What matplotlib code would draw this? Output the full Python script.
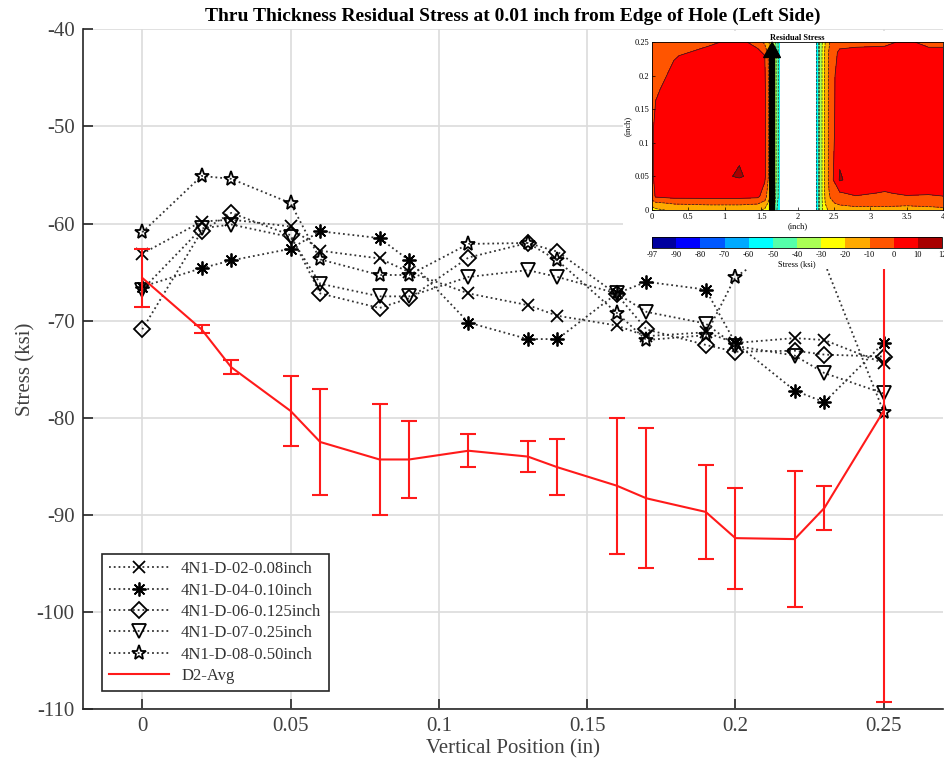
import numpy as np
import matplotlib
matplotlib.use('Agg')
import matplotlib.pyplot as plt
from matplotlib.colors import ListedColormap, BoundaryNorm

plt.rcParams['font.family'] = ['Liberation Serif', 'DejaVu Serif']
plt.rcParams['axes.unicode_minus'] = False

# --- main chart data ---
x_pos = [0, 0.02, 0.03, 0.05, 0.06, 0.08, 0.09, 0.11, 0.13, 0.14,
         0.16, 0.17, 0.19, 0.20, 0.22, 0.23, 0.25]

d02 = [-63.1, -59.8, -59.6, -60.3, -62.8, -63.6, -65.0, -67.2, -68.4, -69.5,
       -70.5, -71.6, -71.2, -72.3, -71.8, -72.0, -74.4]
d04 = [-66.5, -64.6, -63.8, -62.6, -60.8, -61.5, -63.8, -70.2, -71.9, -71.9,
       -67.2, -66.0, -66.8, -72.3, -77.2, -78.4, -72.3]
d06 = [-70.9, -60.8, -58.9, -61.2, -67.2, -68.7, -67.7, -63.5, -62.0, -62.9,
       -67.3, -70.9, -72.5, -73.2, -73.1, -73.5, -73.7]
d07 = [-66.8, -60.5, -60.1, -61.4, -66.2, -67.5, -67.5, -65.5, -64.8, -65.5,
       -67.2, -69.1, -70.3, -72.6, -73.6, -75.4, -77.5]
d08 = [-60.9, -55.1, -55.4, -57.9, -63.7, -65.3, -65.3, -62.1, -62.0, -63.8,
       -69.2, -72.0, -71.5, -65.5, -61.5, -64.0, -79.4]

avg = [-65.6, -70.9, -74.8, -79.3, -82.5, -84.3, -84.3, -83.4, -84.0, -85.1,
       -87.0, -88.3, -89.7, -92.4, -92.5, -89.3, -79.3]
avg_err = [3.0, 0.4, 0.7, 3.6, 5.5, 5.7, 4.0, 1.7, 1.6, 2.9,
           7.0, 7.2, 4.8, 5.2, 7.0, 2.3, 30.0]

series_labels = ['4N1-D-02-0.08inch', '4N1-D-04-0.10inch', '4N1-D-06-0.125inch',
                 '4N1-D-07-0.25inch', '4N1-D-08-0.50inch']
series_markers = ['x', (8, 2, 0), 'D', 'v', '*']
series_sizes = [8, 10, 8, 10, 11]

# --- inset contour data (coarse grid) ---
left_x = [0.0, 0.05, 0.3, 0.8, 1.2, 1.45, 1.55, 1.62, 1.7, 1.75]
left_y = [0.0, 0.01, 0.02, 0.05, 0.12, 0.18, 0.23, 0.25]
left_z = [
    [-25, -22, -18, -16, -16, -18, -22, -30, -45, -60],
    [-15, -12, -9, -8, -8, -9, -13, -25, -42, -58],
    [-5, 1, 3, 3, 3, 2, -5, -20, -40, -55],
    [-3, 5, 8, 8, 10.6, 8, 2, -15, -38, -55],
    [-3, 5, 8, 8, 8, 7, 2, -15, -38, -55],
    [-6, -2, 6, 8, 8, 7, 2, -15, -38, -55],
    [-8, -6, -1, 6, 8, 6, 0, -15, -38, -55],
    [-9, -8, -4, -2, 4, -5, -12, -22, -40, -56],
]
right_x = [2.25, 2.3, 2.38, 2.45, 2.58, 2.8, 3.2, 3.5, 3.8, 4.0]
right_y = [0.0, 0.01, 0.025, 0.045, 0.12, 0.2, 0.235, 0.25]
right_z = [
    [-65, -40, -22, -18, -16, -14, -14, -15, -14, -13],
    [-65, -40, -20, -12, -8, -6, -6, -7, -6, -5],
    [-65, -40, -18, -8, -1, 2, -1, 2, 1, 2],
    [-65, -40, -18, -5, 11, 6, 7, 7, 7, 7],
    [-65, -40, -18, -5, 6, 7, 7, 7, 7, 7],
    [-65, -40, -18, -5, 5, 7, 7, 7, 7, 7],
    [-65, -40, -18, -6, 2, 3, 3, 4, 3, 4],
    [-65, -40, -20, -9, -4, -3, -2, 2, -3, -4],
]
stress_levels = [-97, -90, -80, -70, -60, -50, -40, -30, -20, -10, 0, 10, 12]
stress_colors = ['#00009F', '#0000FF', '#0058FF', '#00AAFF', '#00FFFF', '#55FFAA',
                 '#AAFF55', '#FFFF00', '#FFAA00', '#FF5500', '#FF0000', '#A80000']

# --- figure ---
fig = plt.figure(figsize=(9.44, 7.68), dpi=100)
ax = fig.add_axes([0.0879, 0.0768, 0.911, 0.885])

for vals, lab, mk, ms in zip([d02, d04, d06, d07, d08], series_labels,
                             series_markers, series_sizes):
    ax.plot(x_pos, vals, linestyle=':', color='#333333', linewidth=1.3,
            marker=mk, markersize=ms, markerfacecolor='none',
            markeredgecolor='black', markeredgewidth=1.3, label=lab)

ax.errorbar(x_pos, avg, yerr=avg_err, color='#FF1A1A', linewidth=1.5,
            elinewidth=1.5, capsize=6, capthick=1.5)
ax.plot([], [], color='#FF1A1A', linewidth=1.5, label='D2-Avg')

ax.set_xlim(-0.02, 0.27)
ax.set_ylim(-110, -40)
ax.set_xticks([0, 0.05, 0.1, 0.15, 0.2, 0.25])
ax.set_xticklabels(['0', '0.05', '0.1', '0.15', '0.2', '0.25'])
ax.set_yticks(range(-110, -39, 10))
ax.grid(True, color='#dcdcdc', linewidth=1.2)
ax.set_axisbelow(True)
for side in ['top', 'right']:
    ax.spines[side].set_visible(False)
for side in ['left', 'bottom']:
    ax.spines[side].set_color('#262626')
    ax.spines[side].set_linewidth(1.2)
ax.tick_params(direction='in', length=7, width=1.2, colors='#262626',
               labelsize=15, pad=6)
for t in ax.get_xticklabels() + ax.get_yticklabels():
    t.set_color('#404040')

ax.set_xlabel('Vertical Position (in)', fontsize=15, color='#404040', labelpad=2)
ax.set_ylabel('Stress (ksi)', fontsize=15, color='#404040', labelpad=1)
ax.set_title('Thru Thickness Residual Stress at 0.01 inch from Edge of Hole (Left Side)',
             fontsize=14, fontweight='bold', pad=6)

leg = ax.legend(loc='lower left', bbox_to_anchor=(0.022, 0.026), borderaxespad=0,
                numpoints=1, handlelength=3.6, fontsize=12, fancybox=False,
                framealpha=1, edgecolor='#262626', labelspacing=0.32,
                handletextpad=0.7, borderpad=0.45)
leg.get_frame().set_linewidth(1.2)
for t in leg.get_texts():
    t.set_color('#333333')

# --- inset: residual stress contour ---
bg = fig.add_axes([0.660, 0.650, 0.340, 0.310])
bg.set_facecolor('white')
bg.set_xticks([])
bg.set_yticks([])
for s in bg.spines.values():
    s.set_visible(False)

cmap = ListedColormap(stress_colors)
norm = BoundaryNorm(stress_levels, cmap.N)
ins = fig.add_axes([0.6907, 0.7266, 0.3083, 0.2184])
for gx, gy, gz in [(left_x, left_y, left_z), (right_x, right_y, right_z)]:
    cs = ins.contourf(gx, gy, np.array(gz), levels=stress_levels, cmap=cmap, norm=norm)
    ins.contour(gx, gy, np.array(gz), levels=stress_levels, colors='#202020',
                linewidths=0.5)
ins.annotate('', xy=(1.65, 0.25), xytext=(1.65, 0.0), annotation_clip=False,
             arrowprops=dict(facecolor='black', edgecolor='black', width=3.5,
                             headwidth=12, headlength=11, shrink=0))
ins.set_xlim(0, 4)
ins.set_ylim(0, 0.25)
ins.set_xticks([0, 0.5, 1, 1.5, 2, 2.5, 3, 3.5, 4])
ins.set_xticklabels(['0', '0.5', '1', '1.5', '2', '2.5', '3', '3.5', '4'])
ins.set_yticks([0, 0.05, 0.1, 0.15, 0.2, 0.25])
ins.set_yticklabels(['0', '0.05', '0.1', '0.15', '0.2', '0.25'])
ins.tick_params(direction='in', length=2, width=0.5, labelsize=6, pad=2)
ins.set_xlabel('(inch)', fontsize=6, labelpad=1)
ins.set_ylabel('(inch)', fontsize=6, labelpad=2)
ins.set_title('Residual Stress', fontsize=6, fontweight='bold', pad=1.5)
for s in ins.spines.values():
    s.set_linewidth(0.6)

cax = fig.add_axes([0.6907, 0.6767, 0.3072, 0.0151])
cb = fig.colorbar(cs, cax=cax, orientation='horizontal', spacing='uniform')
cb.set_ticks(stress_levels)
cb.set_ticklabels([str(v) for v in stress_levels])
cb.ax.tick_params(labelsize=6, length=0, pad=2)
cb.set_label('Stress (ksi)', fontsize=6, labelpad=1)
cb.outline.set_linewidth(0.6)
cb.ax.xaxis.set_tick_params(which='minor', length=0)

fig.savefig('out.png', dpi=100)
